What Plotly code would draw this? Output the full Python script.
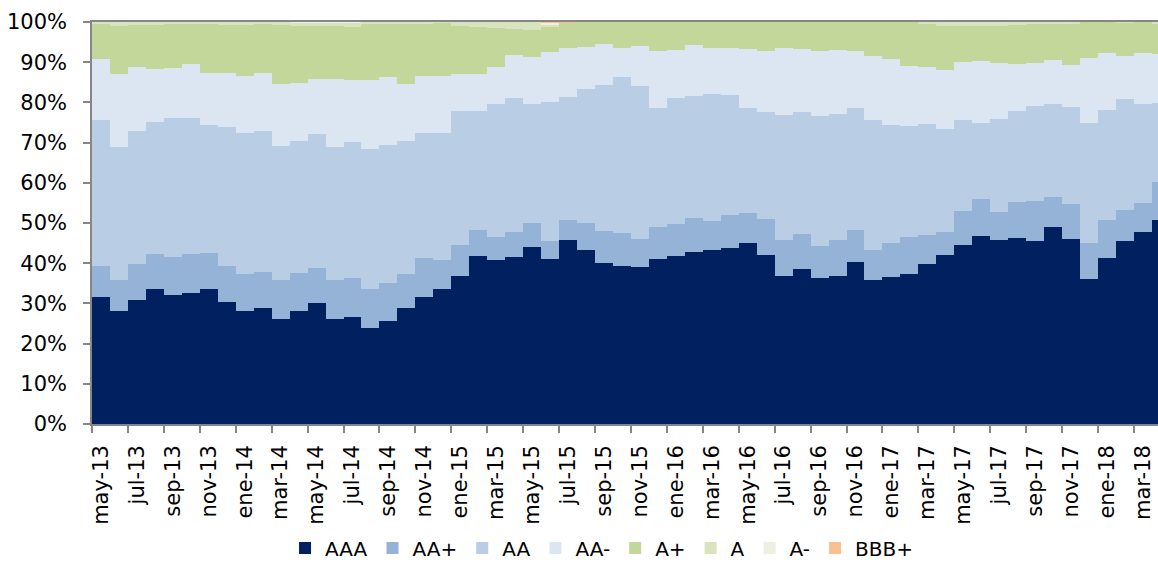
import plotly.graph_objects as go

months = ["may-13","jun-13","jul-13","ago-13","sep-13","oct-13","nov-13","dic-13",
          "ene-14","feb-14","mar-14","abr-14","may-14","jun-14","jul-14","ago-14","sep-14","oct-14","nov-14","dic-14",
          "ene-15","feb-15","mar-15","abr-15","may-15","jun-15","jul-15","ago-15","sep-15","oct-15","nov-15","dic-15",
          "ene-16","feb-16","mar-16","abr-16","may-16","jun-16","jul-16","ago-16","sep-16","oct-16","nov-16","dic-16",
          "ene-17","feb-17","mar-17","abr-17","may-17","jun-17","jul-17","ago-17","sep-17","oct-17","nov-17","dic-17",
          "ene-18","feb-18","mar-18","abr-18"]

# cumulative boundaries (%)
cum_aaa = [31.6,28.2,30.9,33.7,32.0,32.5,33.7,30.4,28.1,28.8,26.2,28.2,30.2,26.0,26.5,23.8,25.5,28.8,31.5,33.6,
           36.7,41.9,40.9,41.6,44.1,41.1,45.8,43.4,40.1,39.4,39.0,41.1,41.9,42.8,43.3,43.9,45.1,42.1,36.9,38.5,
           36.3,36.8,40.2,35.7,36.6,37.4,39.8,42.1,44.5,46.8,45.8,46.3,45.6,49.1,45.9,36.1,41.3,45.5,47.7,50.7]
cum_aap = [39.3,35.7,39.8,42.3,41.6,42.3,42.5,39.2,37.4,37.7,35.8,37.6,38.8,35.7,36.3,33.6,35.2,37.4,41.3,40.9,
           44.5,48.3,46.4,47.7,49.9,45.5,50.7,50.1,48.1,47.6,45.9,49.1,49.8,51.2,50.4,52.1,52.5,51.1,45.8,47.3,
           44.2,45.8,48.3,43.3,45.0,46.4,47.0,47.7,53.0,56.0,52.8,55.2,55.5,56.5,54.7,45.0,50.7,53.2,55.0,60.1]
cum_aa = [75.6,69.0,72.8,75.2,76.0,76.1,74.3,73.8,72.4,72.8,69.1,70.4,72.1,68.9,70.1,68.5,69.4,70.4,72.4,72.5,
          77.8,77.8,79.7,81.0,79.7,80.1,81.3,83.3,84.3,86.2,84.0,78.7,81.0,81.7,82.2,81.8,78.6,77.6,76.9,77.7,
          76.5,77.1,78.6,75.5,74.3,74.2,74.7,73.3,75.6,74.9,75.8,77.8,79.1,79.6,78.8,74.9,78.1,80.8,79.6,79.9]
cum_aam = [90.9,87.0,88.9,88.3,88.6,89.5,87.4,87.2,86.5,87.4,84.6,84.8,85.8,85.7,85.5,85.5,86.2,84.7,86.5,86.6,
           87.0,87.0,88.7,91.8,91.2,92.5,93.5,93.7,94.5,93.5,94.0,92.7,93.1,94.4,93.5,93.5,93.3,92.7,93.5,93.2,
           92.8,93.1,92.9,91.6,90.9,89.1,88.7,88.0,90.0,90.3,89.8,89.6,89.8,90.6,89.2,91.0,92.2,91.6,92.2,92.0]
a_vals = [0.5,1.1,0.75,0.75,0.6,0.3,0.3,0.7,0.8,0.6,0.75,0.7,0.8,0.9,1.0,0.4,0.5,0.5,0.4,0.1,
          1.0,1.3,1.5,1.8,2.0,0.6,0,0,0,0,0,0,0,0,0,0,0,0,0,0,
          0,0,0,0,0,0,0.5,1.0,1.0,1.0,1.0,0.8,0.4,0.4,0.4,0,0,0.2,0,0.3]
am_vals = [0]*11 + [0.2,0.2,0.2,0.2] + [0]*10 + [0.4] + [0]*34
bbbp_vals = [0]*25 + [0.25,0.25] + [0]*33

aaa = cum_aaa
aap = [round(b - a, 2) for a, b in zip(cum_aaa, cum_aap)]
aa = [round(b - a, 2) for a, b in zip(cum_aap, cum_aa)]
aam = [round(b - a, 2) for a, b in zip(cum_aa, cum_aam)]
ap = [round(100 - d - x - y - z, 2) for d, x, y, z in zip(cum_aam, a_vals, am_vals, bbbp_vals)]

series = [("AAA", aaa, "#002060"), ("AA+", aap, "#95B3D7"), ("AA", aa, "#B9CDE5"),
          ("AA-", aam, "#DCE6F2"), ("A+", ap, "#C4D79B"), ("A", a_vals, "#D7E4BD"),
          ("A-", am_vals, "#EBF1DE"), ("BBB+", bbbp_vals, "#FAC090")]

xs = list(range(len(months)))
fig = go.Figure()
for name, vals, col in series:
    fig.add_trace(go.Bar(x=xs, y=vals, name=name, marker=dict(color=col, line=dict(width=0)),
                         width=1.0, customdata=months,
                         hovertemplate="%{customdata}: %{y:.1f}%<extra>" + name + "</extra>"))

tick_pos = [i - 0.5 for i in range(0, len(months), 2)]
tick_txt = [months[i] for i in range(0, len(months), 2)]

font_family = "DejaVu Sans, Verdana, sans-serif"
fig.update_layout(
    width=1158, height=569,
    barmode="stack", bargap=0,
    plot_bgcolor="white", paper_bgcolor="white",
    margin=dict(l=92, r=0, t=22, b=145, autoexpand=False),
    font=dict(family=font_family, size=21, color="#000000"),
    legend=dict(orientation="h", x=0.478, xanchor="center", y=-0.357, yanchor="bottom",
                traceorder="normal", font=dict(size=20), borderwidth=0,
                itemwidth=30, tracegroupgap=0),
    xaxis=dict(range=[-0.5, 58.84], tickmode="array", tickvals=tick_pos, ticktext=tick_txt,
               ticks="outside", ticklen=7, tickcolor="#868686", tickwidth=1.5,
               tickangle=-90, ticklabelshift=9, ticklabelstandoff=4, automargin=False,
               showline=True, linecolor="#868686", linewidth=1.5, mirror=True,
               showgrid=False, zeroline=False, tickfont=dict(size=21)),
    yaxis=dict(range=[0, 100], tickmode="array", tickvals=list(range(0, 101, 10)),
               ticktext=[f"{v}%" for v in range(0, 101, 10)], automargin=False,
               ticks="outside", ticklen=7, tickcolor="#868686", tickwidth=1.5,
               ticklabelstandoff=12,
               showline=True, linecolor="#868686", linewidth=1.5,
               showgrid=False, zeroline=False, tickfont=dict(size=21)),
)

fig.write_html("out.html", config={"displayModeBar": False},
               post_script="document.body.style.margin='0';document.body.style.overflow='hidden';")
